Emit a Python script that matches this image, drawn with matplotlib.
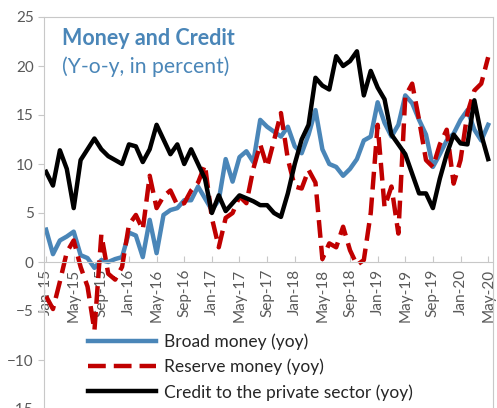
import matplotlib
matplotlib.use("Agg")
import matplotlib.pyplot as plt
import numpy as np

months = ["Jan", "Feb", "Mar", "Apr", "May", "Jun", "Jul", "Aug", "Sep", "Oct", "Nov", "Dec"]
dates = [f"{months[i % 12]}-{15 + i // 12}" for i in range(65)]

broad_money = [3.3, 0.8, 2.2, 2.6, 3.1, 0.7, 0.4, -0.6, 0.2, 0.0, 0.3, 0.5,
               3.0, 2.7, 0.5, 4.3, 0.9, 4.8, 5.3, 5.5, 6.3, 6.3, 7.7, 6.5,
               5.3, 6.3, 10.5, 8.2, 10.7, 11.3, 10.2, 14.5, 13.8, 13.3, 12.8, 13.8,
               11.8, 11.1, 13.0, 15.5, 11.5, 10.0, 9.7, 8.8, 9.5, 10.5, 12.4, 12.8,
               16.3, 14.2, 12.8, 14.0, 17.0, 16.2, 14.5, 13.0, 9.7, 11.0, 12.4, 13.1,
               14.5, 15.5, 13.5, 12.4, 14.0]
reserve_money = [-3.5, -4.8, -2.0, 1.0, 2.2, -0.5, -2.5, -7.0, 2.8, -1.2, -1.8, -0.5,
                 3.8, 4.8, 3.3, 8.8, 5.5, 6.7, 7.3, 5.8, 6.0, 7.3, 8.1, 9.9,
                 4.5, 1.5, 4.5, 5.0, 6.7, 6.0, 9.5, 12.0, 9.7, 12.4, 15.2, 10.5,
                 7.7, 7.5, 9.4, 8.1, 0.3, 1.9, 1.5, 3.6, 1.2, -0.3, 0.2, 5.0,
                 14.0, 5.6, 7.7, 2.9, 16.9, 18.2, 14.5, 10.4, 9.7, 12.0, 13.5, 8.0,
                 10.4, 15.2, 17.5, 18.2, 20.9]
private_credit = [9.2, 7.8, 11.4, 9.5, 5.5, 10.4, 11.5, 12.6, 11.5, 10.8, 10.4, 10.0,
                  12.0, 11.8, 10.2, 11.5, 14.0, 12.5, 11.0, 12.0, 10.0, 11.5, 10.0, 8.5,
                  5.0, 6.8, 5.2, 6.0, 6.8, 6.5, 6.2, 5.8, 5.8, 5.0, 4.6, 7.0,
                  10.0, 12.5, 14.0, 18.8, 18.0, 17.6, 21.0, 20.0, 20.5, 21.5, 17.0, 19.5,
                  17.8, 16.6, 13.0, 12.0, 11.0, 9.0, 7.0, 7.0, 5.5, 8.5, 11.0, 13.0,
                  12.1, 12.0, 16.5, 13.0, 10.5]

blue = "#4a86b8"
red = "#c00000"
grey = "#595959"
plt.rcParams["font.family"] = ["Lato", "DejaVu Sans"]

fig = plt.figure(figsize=(4.97, 4.08), dpi=100)
ax = fig.add_axes([44 / 497, -1 / 408, 449 / 497, 392 / 408])

x = np.arange(len(dates))
ax.plot(x, broad_money, color=blue, lw=3.2, label="Broad money (yoy)")
ax.plot(x, reserve_money, color=red, lw=3.2, dashes=(4.0, 1.8), label="Reserve money (yoy)")
ax.plot(x, private_credit, color="black", lw=3.2, label="Credit to the private sector (yoy)")

# x axis sits on the zero line
for s in ["left", "top", "right", "bottom"]:
    ax.spines[s].set_color("#c8c8c8")
ax.spines["bottom"].set_position(("data", 0))

ax.set_xlim(-0.3, 64.7)
ax.set_ylim(-15, 25)
ax.set_yticks(range(-15, 26, 5))
ax.set_xticks(x[::4])
ax.set_xticklabels(dates[::4])
ax.tick_params(axis="x", direction="in", length=4, colors="#c8c8c8",
               labelcolor=grey, labelsize=11, labelrotation=90, pad=5)
ax.tick_params(axis="y", direction="out", length=4, colors="#c8c8c8",
               labelcolor=grey, labelsize=11)

ax.text(0.04, 0.945, "Money and Credit", transform=ax.transAxes, color=blue,
        fontsize=15.5, fontweight="bold", va="center")
ax.text(0.04, 0.872, "(Y-o-y, in percent)", transform=ax.transAxes, color=blue,
        fontsize=15.2, va="center")

leg = ax.legend(loc="lower left", bbox_to_anchor=(0.075, -0.005), frameon=False,
                fontsize=12.5, handlelength=3.9, labelspacing=0.5, handletextpad=0.45,
                borderaxespad=0.2)
for t in leg.get_texts():
    t.set_color("#262626")

fig.savefig("out.png", dpi=100)
